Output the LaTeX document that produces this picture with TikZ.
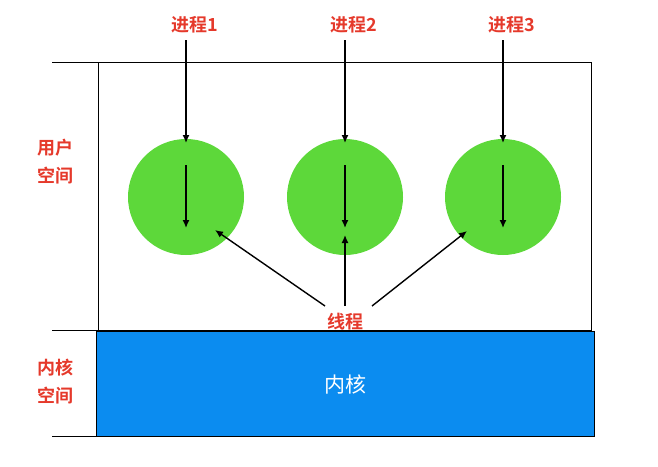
\documentclass[tikz,border=0pt]{standalone}
\usepackage{fontspec}
\usetikzlibrary{arrows.meta}
\setmainfont{Noto Sans CJK SC}
\newfontfamily\cjkb{Noto Sans CJK SC Bold}
\definecolor{lab}{HTML}{E5392B}
\definecolor{grn}{HTML}{5DD83A}
\definecolor{blu}{HTML}{0B8CF0}
\begin{document}
\begin{tikzpicture}[x=1pt,y=-1pt,
  lbl/.style={text=lab,font=\cjkb\fontsize{18}{28}\selectfont,align=center},
  arr/.style={-{Latex[length=8pt,width=7pt]},line width=1.4pt},
  circ/.style={circle,fill=grn,minimum size=116pt,inner sep=0pt}]
\useasboundingbox (0,0) rectangle (658,466);
\draw[line width=0.6pt] (98,62) rectangle (591,330);
\draw[line width=1pt] (52,62) -- (98,62) (52,330) -- (98,330) (52,436) -- (98,436);
\node[draw=black,line width=1pt,fill=blu,minimum width=498pt,minimum height=105pt,inner sep=0pt,text=white,font=\fontsize{21}{24}\selectfont] (k) at (345,384) {内核};
\node[lbl] (u) at (55,162) {用户\\空间};
\node[lbl] (ks) at (55,382) {内核\\空间};
\foreach \i/\x in {1/186,2/345,3/503}{
  \node[circ] (c\i) at (\x,197) {};
  \node[lbl] (p\i) at (\x+9,25) {进程\i};
  \coordinate (a\i) at (\x,143);
  \coordinate (s\i) at (\x,165);
  \coordinate (e\i) at (\x,228);
  \draw[arr] (\x,40) -- (a\i);
  \draw[arr] (s\i) -- (e\i);
}
\node[lbl] (t) at (345,322) {线程};
\coordinate (t1) at (215,230);
\coordinate (t2) at (345,235);
\coordinate (t3) at (467,231);
\draw[arr] (325,306) -- (t1);
\draw[arr] (345,306) -- (t2);
\draw[arr] (372,306) -- (t3);
\end{tikzpicture}
\end{document}
